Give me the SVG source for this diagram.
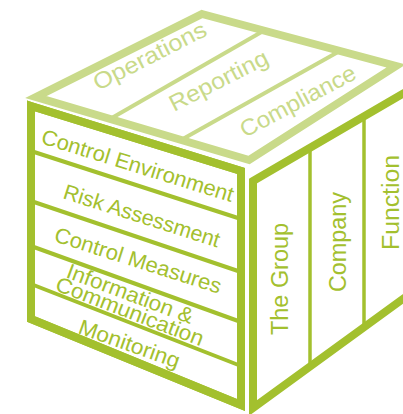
<svg xmlns="http://www.w3.org/2000/svg" width="403" height="414" viewBox="0 0 403 414">
  <style>
    .frame { fill: #ffffff; stroke-linejoin: miter; stroke-miterlimit: 10; }
    .dark { stroke: #a3c02e; }
    .light { stroke: #c9da8a; }
    .edge { stroke-width: 8; }
    .rule { stroke-width: 4; fill: none; }
    .rule-thin { stroke-width: 3.5; fill: none; }
    text { font-family: "Liberation Sans", Arial, Helvetica, sans-serif; }
    .t-top { fill: #c9da8a; font-size: 23px; }
    .t-front { fill: #a3c02e; font-size: 21.5px; }
    .t-side { fill: #a3c02e; font-size: 23px; }
  </style>

  <!-- top face: objectives -->
  <g id="face-top">
    <polygon class="frame light edge" points="202,14 396,66 249,160 36,97"/>
    <g id="top-dividers">
      <line class="rule light" x1="265" y1="30" x2="110" y2="119"/>
      <line class="rule light" x1="338" y1="52" x2="181" y2="140"/>
    </g>
    <g id="node-operations">
      <text class="t-top" transform="translate(98,91) rotate(-27)" textLength="124" lengthAdjust="spacingAndGlyphs">Operations</text>
    </g>
    <g id="node-reporting">
      <text class="t-top" transform="translate(174,112) rotate(-27)" textLength="108" lengthAdjust="spacingAndGlyphs">Reporting</text>
    </g>
    <g id="node-compliance">
      <text class="t-top" transform="translate(245,138) rotate(-28)" textLength="128" lengthAdjust="spacingAndGlyphs">Compliance</text>
    </g>
  </g>

  <!-- front face: components -->
  <g id="face-front">
    <polygon class="frame dark edge" points="31,106 241,171 241,405 31,319"/>
    <g id="front-dividers">
      <line class="rule dark" x1="31" y1="151" x2="241" y2="219"/>
      <line class="rule dark" x1="31" y1="201" x2="241" y2="272"/>
      <line class="rule dark" x1="31" y1="246" x2="241" y2="322"/>
      <line class="rule dark" x1="31" y1="284" x2="241" y2="366"/>
    </g>
    <polygon class="dark edge" fill="none" points="31,106 241,171 241,405 31,319"/>
    <g id="node-control-environment">
      <text class="t-front" transform="translate(40,143) rotate(17.2)" textLength="200" lengthAdjust="spacingAndGlyphs">Control Environment</text>
    </g>
    <g id="node-risk-assessment">
      <text class="t-front" transform="translate(62,198) rotate(17.7)" textLength="163" lengthAdjust="spacingAndGlyphs">Risk Assessment</text>
    </g>
    <g id="node-control-measures">
      <text class="t-front" transform="translate(53,241) rotate(17.7)" textLength="174" lengthAdjust="spacingAndGlyphs">Control Measures</text>
    </g>
    <g id="node-information-communication">
      <text class="t-front" transform="translate(65,277) rotate(20.6)" textLength="134" lengthAdjust="spacingAndGlyphs">Information &amp;</text>
      <text class="t-front" transform="translate(54,290) rotate(21)" textLength="157" lengthAdjust="spacingAndGlyphs">Communication</text>
    </g>
    <g id="node-monitoring">
      <text class="t-front" transform="translate(77,333) rotate(19.5)" textLength="106" lengthAdjust="spacingAndGlyphs">Monitoring</text>
    </g>
  </g>

  <!-- right face: organisational levels -->
  <g id="face-right">
    <polygon class="frame dark edge" points="253,181 440,72 440,272 253,408"/>
    <g id="right-dividers">
      <line class="rule-thin dark" x1="310" y1="148" x2="310" y2="367"/>
      <line class="rule-thin dark" x1="364" y1="117" x2="364" y2="327"/>
    </g>
    <g id="node-the-group">
      <text class="t-side" transform="translate(288,335) rotate(-90)" textLength="112" lengthAdjust="spacingAndGlyphs">The Group</text>
    </g>
    <g id="node-company">
      <text class="t-side" transform="translate(346,292) rotate(-90)" textLength="100" lengthAdjust="spacingAndGlyphs">Company</text>
    </g>
    <g id="node-function">
      <text class="t-side" transform="translate(399,250) rotate(-90)" textLength="95" lengthAdjust="spacingAndGlyphs">Function</text>
    </g>
  </g>
</svg>
